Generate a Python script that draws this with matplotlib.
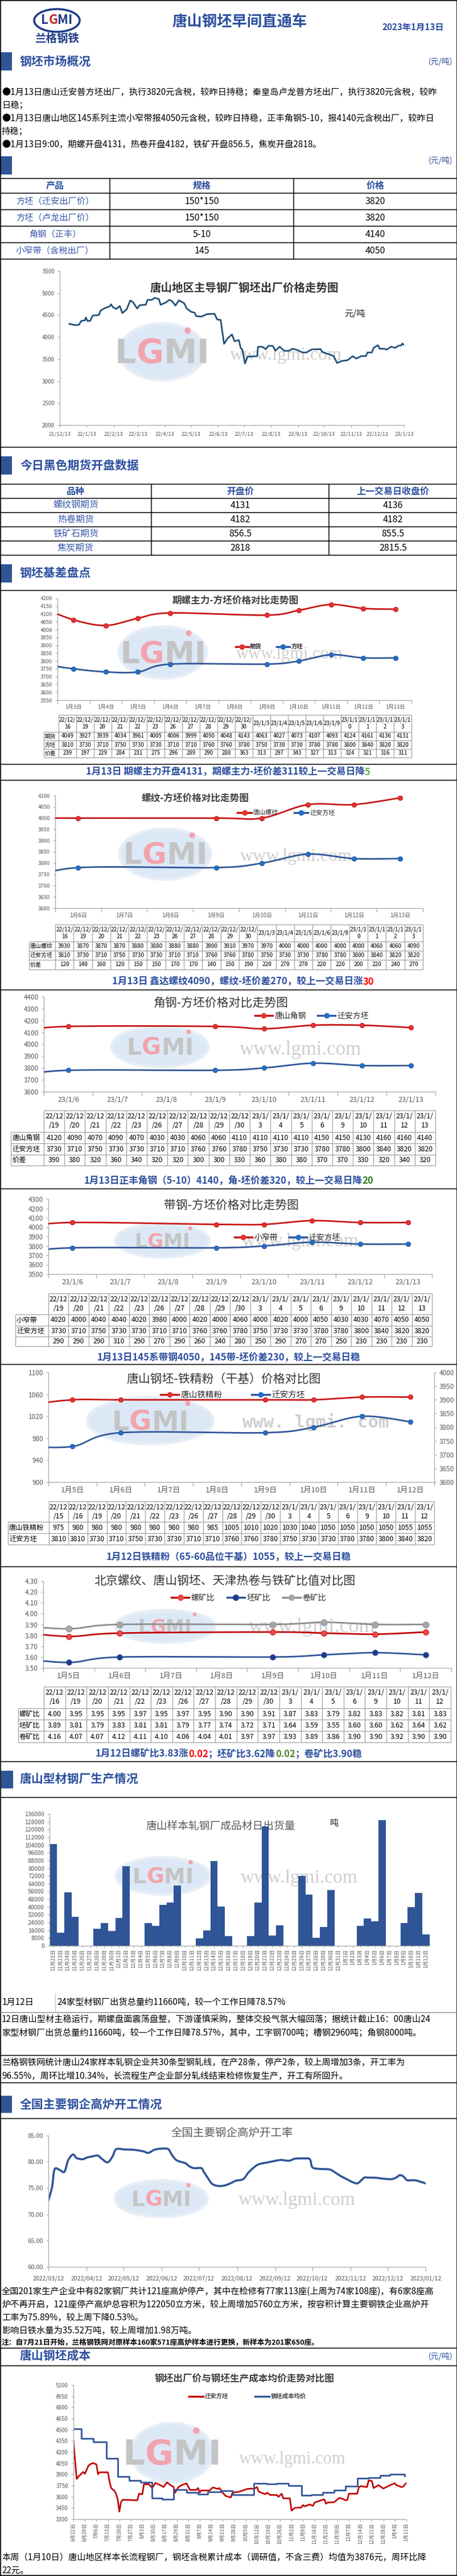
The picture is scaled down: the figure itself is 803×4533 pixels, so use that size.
import numpy as np
import matplotlib
matplotlib.use('Agg')
import matplotlib.pyplot as plt
from matplotlib.patches import Rectangle, Ellipse, Circle
from matplotlib.lines import Line2D
from matplotlib.ticker import FormatStrFormatter

plt.rcParams['font.family'] = ['Noto Sans CJK SC', 'DejaVu Sans']
plt.rcParams['axes.unicode_minus'] = False

# ======================= DATA =======================
report_title = '唐山钢坯早间直通车'
report_date = '2023年1月13日'

overview_lines = [
    '●1月13日唐山迁安普方坯出厂，执行3820元含税，较昨日持稳；秦皇岛卢龙普方坯出厂，执行3820元含税，较昨',
    '日稳；',
    '●1月13日唐山地区145系列主流小窄带报4050元含税，较昨日持稳，正丰角钢5-10，报4140元含税出厂，较昨日',
    '持稳；',
    '●1月13日9:00，期螺开盘4131，热卷开盘4182，铁矿开盘856.5，焦炭开盘2818。',
]

price_header = ['产品', '规格', '价格']
price_products = ['方坯（迁安出厂价）', '方坯（卢龙出厂价）', '角钢（正丰）', '小窄带（含税出厂）']
price_specs = ['150*150', '150*150', '5-10', '145']
price_values = ['3820', '3820', '4140', '4050']

# chart 1: Tangshan billet price trend (days since 2021-12-13)
trend_days = [11, 18, 22, 25, 29, 30, 32, 35, 38, 45, 47, 52, 57, 59, 61, 65, 69, 72, 77, 81,
              84, 89, 92, 99, 101, 106, 109, 114, 116, 121, 126, 129, 133, 137, 143, 146, 151, 155, 157, 163,
              169, 178, 181, 185, 189, 193, 198, 201, 206, 208, 210, 213, 216, 227, 228, 233, 237, 240, 245, 248,
              253, 258, 263, 268, 274, 279, 284, 287, 290, 300, 302, 307, 312, 315, 319, 324, 331, 337, 341, 347,
              352, 354, 359, 361, 366, 368, 373, 376, 381, 386, 389, 393, 394, 396]
trend_price = [4300, 4270, 4280, 4370, 4380, 4445, 4365, 4370, 4490, 4500, 4605, 4660, 4690, 4745, 4680, 4640, 4705, 4545, 4630, 4830,
               4800, 4650, 4725, 4735, 4845, 4845, 4890, 4865, 4735, 4775, 4845, 4820, 4715, 4835, 4770, 4650, 4575, 4555, 4475, 4465,
               4520, 4530, 4400, 4390, 3845, 3970, 4060, 3905, 3930, 3755, 3715, 3400, 3555, 3565, 3780, 3780, 3725, 3800, 3800, 3690,
               3780, 3690, 3685, 3735, 3700, 3650, 3650, 3690, 3720, 3725, 3660, 3625, 3595, 3565, 3410, 3455, 3475, 3565, 3510, 3570,
               3565, 3650, 3650, 3755, 3815, 3735, 3735, 3715, 3780, 3755, 3800, 3815, 3855, 3820]
trend_tick_days = [0, 31, 62, 90, 121, 151, 182, 212, 243, 274, 304, 335, 365, 396]
trend_tick_labels = ['21/12/13', '22/1/13', '22/2/13', '22/3/13', '22/4/13', '22/5/13', '22/6/13',
                     '22/7/13', '22/8/13', '22/9/13', '22/10/13', '22/11/13', '22/12/13', '23/1/13']

fut_header = ['品种', '开盘价', '上一交易日收盘价']
fut_names = ['螺纹钢期货', '热卷期货', '铁矿石期货', '焦炭期货']
fut_open = ['4131', '4182', '856.5', '2818']
fut_prev = ['4136', '4182', '855.5', '2815.5']

# chart 2: futures vs billet
c2_cats = ['1月3日', '1月4日', '1月5日', '1月6日', '1月7日', '1月8日', '1月9日', '1月10日', '1月11日', '1月12日', '1月13日']
c2_fut = [4063, 4027, 4073, 4107, None, None, 4093, 4124, 4161, 4136, 4131]
c2_fut_lead = 4143
c2_bil = [3750, 3730, 3730, 3780, None, None, 3780, 3800, 3840, 3820, 3820]
c2_bil_lead = 3780
t2_days = ['22/12/\n16', '22/12/\n19', '22/12/\n20', '22/12/\n21', '22/12/\n22', '22/12/\n23', '22/12/\n26',
           '22/12/\n27', '22/12/\n28', '22/12/\n29', '22/12/\n30', '23/1/3', '23/1/4', '23/1/5', '23/1/6',
           '23/1/9', '23/1/1\n0', '23/1/1\n1', '23/1/1\n2', '23/1/1\n3']
t2_fut = [4049, 3927, 3939, 4034, 3961, 4005, 4006, 3999, 4050, 4048, 4143, 4063, 4027, 4073, 4107, 4093, 4124, 4161, 4136, 4131]
t2_bil = [3810, 3730, 3710, 3750, 3730, 3730, 3710, 3710, 3760, 3760, 3780, 3750, 3730, 3730, 3780, 3780, 3800, 3840, 3820, 3820]
t2_spr = [239, 197, 229, 284, 231, 275, 296, 289, 290, 288, 363, 313, 297, 343, 327, 313, 324, 321, 316, 311]

# chart 3: rebar vs billet
c3_cats = ['1月6日', '1月7日', '1月8日', '1月9日', '1月10日', '1月11日', '1月12日', '1月13日']
c3_reb = [4000, None, None, 4000, 4000, 4060, 4060, 4090]
c3_reb_lead = 4000
c3_bil = [3780, None, None, 3780, 3800, 3840, 3820, 3820]
c3_bil_lead = 3730
t3_reb = [3930, 3870, 3870, 3870, 3880, 3880, 3880, 3880, 3900, 3910, 3970, 3970, 4000, 4000, 4000, 4000, 4000, 4060, 4060, 4090]
t3_bil = [3810, 3730, 3710, 3750, 3730, 3730, 3710, 3710, 3760, 3760, 3780, 3750, 3730, 3730, 3780, 3780, 3800, 3840, 3820, 3820]
t3_spr = [120, 140, 160, 120, 150, 150, 170, 170, 140, 150, 190, 220, 270, 270, 220, 220, 200, 220, 240, 270]

# chart 4: angle vs billet
c4_cats = ['23/1/6', '23/1/7', '23/1/8', '23/1/9', '23/1/10', '23/1/11', '23/1/12', '23/1/13']
c4_ang = [4150, None, None, 4150, 4130, 4160, 4160, 4140]
c4_ang_lead = 4110
c4_bil = [3780, None, None, 3780, 3800, 3840, 3820, 3820]
c4_bil_lead = 3730
t4_days = ['22/12\n/19', '22/12\n/20', '22/12\n/21', '22/12\n/22', '22/12\n/23', '22/12\n/26', '22/12\n/27',
           '22/12\n/28', '22/12\n/29', '22/12\n/30', '23/1/\n3', '23/1/\n4', '23/1/\n5', '23/1/\n6', '23/1/\n9',
           '23/1/\n10', '23/1/\n11', '23/1/\n12', '23/1/\n13']
t4_ang = [4120, 4090, 4070, 4090, 4070, 4030, 4030, 4060, 4060, 4110, 4110, 4110, 4110, 4150, 4150, 4130, 4160, 4160, 4140]
t4_bil = [3730, 3710, 3750, 3730, 3730, 3710, 3710, 3760, 3760, 3780, 3750, 3730, 3730, 3780, 3780, 3800, 3840, 3820, 3820]
t4_spr = [390, 380, 320, 360, 340, 320, 320, 300, 300, 330, 360, 380, 380, 370, 370, 330, 320, 340, 320]

# chart 5: strip vs billet
c5_cats = ['23/1/6', '23/1/7', '23/1/8', '23/1/9', '23/1/10', '23/1/11', '23/1/12', '23/1/13']
c5_str = [4050, None, None, 4030, 4030, 4070, 4050, 4050]
c5_str_lead = 4000
c5_bil = [3780, None, None, 3780, 3800, 3840, 3820, 3820]
c5_bil_lead = 3730
t5_str = [4020, 4000, 4040, 4040, 4020, 3980, 4000, 4020, 4000, 4060, 4000, 4020, 4000, 4050, 4030, 4030, 4070, 4050, 4050]
t5_bil = [3730, 3710, 3750, 3730, 3730, 3710, 3710, 3760, 3760, 3780, 3750, 3730, 3730, 3780, 3780, 3800, 3840, 3820, 3820]
t5_spr = [290, 290, 290, 310, 290, 270, 290, 260, 240, 280, 250, 290, 270, 270, 250, 230, 230, 230, 230]

# chart 6: billet vs iron concentrate
c6_cats = ['1月5日', '1月6日', '1月7日', '1月8日', '1月9日', '1月10日', '1月11日', '1月12日']
c6_ore = [1050, 1050, None, None, 1050, 1050, 1055, 1055]
c6_ore_lead = 1040
c6_bil = [3730, 3780, None, None, 3780, 3800, 3840, 3820]
c6_bil_lead = 3730
t6_days = ['22/12\n/15', '22/12\n/16', '22/12\n/19', '22/12\n/20', '22/12\n/21', '22/12\n/22', '22/12\n/23',
           '22/12\n/26', '22/12\n/27', '22/12\n/28', '22/12\n/29', '22/12\n/30', '23/1/\n3', '23/1/\n4',
           '23/1/\n5', '23/1/\n6', '23/1/\n9', '23/1/\n10', '23/1/\n11', '23/1/\n12']
t6_ore = [975, 980, 980, 980, 980, 980, 980, 980, 985, 1005, 1010, 1020, 1030, 1040, 1050, 1050, 1050, 1050, 1055, 1055]
t6_bil = [3810, 3810, 3730, 3710, 3750, 3730, 3730, 3710, 3710, 3760, 3760, 3780, 3750, 3730, 3730, 3780, 3780, 3800, 3840, 3820]

# chart 7: ratios
c7_cats = ['1月5日', '1月6日', '1月7日', '1月8日', '1月9日', '1月10日', '1月11日', '1月12日']
c7_reb = [3.79, 3.82, None, None, 3.83, 3.82, 3.81, 3.83]
c7_reb_lead = 3.83
c7_bil = [3.55, 3.60, None, None, 3.60, 3.62, 3.64, 3.62]
c7_bil_lead = 3.59
c7_coil = [3.86, 3.90, None, None, 3.90, 3.92, 3.90, 3.90]
c7_coil_lead = 3.89
t7_days = ['22/12\n/16', '22/12\n/19', '22/12\n/20', '22/12\n/21', '22/12\n/22', '22/12\n/23', '22/12\n/26',
           '22/12\n/27', '22/12\n/28', '22/12\n/29', '22/12\n/30', '23/1/\n3', '23/1/\n4', '23/1/\n5',
           '23/1/\n6', '23/1/\n9', '23/1/\n10', '23/1/\n11', '23/1/\n12']
t7_reb = [4.00, 3.95, 3.95, 3.95, 3.97, 3.95, 3.97, 3.95, 3.90, 3.90, 3.91, 3.87, 3.83, 3.79, 3.82, 3.83, 3.82, 3.81, 3.83]
t7_bil = [3.89, 3.81, 3.79, 3.83, 3.81, 3.81, 3.79, 3.77, 3.74, 3.72, 3.71, 3.64, 3.59, 3.55, 3.60, 3.60, 3.62, 3.64, 3.62]
t7_coil = [4.16, 4.07, 4.07, 4.12, 4.11, 4.10, 4.06, 4.04, 4.01, 3.97, 3.97, 3.93, 3.89, 3.86, 3.90, 3.90, 3.92, 3.90, 3.90]

# bar chart: daily shipments (t)
ship_dates = ['11月22日', '11月23日', '11月24日', '11月25日', '11月26日', '11月27日', '11月28日', '11月29日', '11月30日',
              '12月1日', '12月2日', '12月3日', '12月4日', '12月5日', '12月6日', '12月7日', '12月8日', '12月9日', '12月10日',
              '12月11日', '12月12日', '12月13日', '12月14日', '12月15日', '12月16日', '12月17日', '12月18日', '12月19日',
              '12月20日', '12月21日', '12月22日', '12月23日', '12月24日', '12月25日', '12月26日', '12月27日', '12月28日',
              '12月29日', '12月30日', '12月31日', '1月1日', '1月2日', '1月3日', '1月4日', '1月5日', '1月6日', '1月7日',
              '1月8日', '1月9日', '1月10日', '1月11日', '1月12日']
ship_tons = [104800, 13600, 55000, 30000, 0, 0, 17800, 23700, 15400, 29000, 82000, 0, 0, 23700, 20700, 42100, 44500,
             62000, 0, 0, 7700, 16000, 87200, 40400, 10000, 0, 0, 10000, 44500, 123300, 10700, 21300, 0, 0, 72000,
             52500, 8300, 19600, 57400, 0, 0, 0, 20700, 27900, 25500, 129800, 0, 0, 23700, 39800, 54400, 11660]

# blast furnace utilisation (days since 2022-03-12)
bf_days = [0, 3, 5, 9, 13, 16, 20, 23, 28, 31, 35, 40, 43, 48, 52, 55, 62, 69, 77, 81, 86, 91, 97, 100, 104,
           111, 114, 118, 124, 126, 130, 133, 138, 143, 148, 152, 158, 162, 167, 171, 178, 184, 189, 195, 200,
           207, 212, 214, 219, 228, 233, 237, 242, 247, 251, 256, 259, 266, 271, 278, 282, 285, 288, 291, 297, 302, 306]
bf_rate = [72.68, 75.2, 78.55, 78.48, 78.1, 80.3, 81.4, 80.7, 80.5, 80.8, 81.0, 81.2, 80.65, 79.9, 81.0, 82.4, 82.35,
           82.3, 82.0, 81.7, 82.3, 82.5, 82.45, 81.4, 80.3, 79.75, 79.2, 78.8, 78.8, 78.1, 76.7, 75.76, 75.4, 75.5,
           75.94, 76.4, 76.7, 77.9, 79.0, 79.57, 79.9, 80.2, 80.36, 80.2, 80.6, 80.65, 80.5, 79.0, 78.66, 78.55, 77.9,
           77.3, 76.7, 76.1, 75.94, 76.96, 77.0, 76.96, 76.8, 76.7, 77.0, 77.46, 77.2, 76.5, 76.5, 76.2, 75.89]
bf_tick_days = [0, 31, 61, 92, 122, 153, 184, 214, 245, 275, 306]
bf_tick_labels = ['2022/03/12', '2022/04/12', '2022/05/12', '2022/06/12', '2022/07/12', '2022/08/12',
                  '2022/09/12', '2022/10/12', '2022/11/12', '2022/12/12', '2023/01/12']

# cost chart (days since 2022-06-22)
cost_bil_days = [0, 1, 2, 3, 6, 7, 9, 10, 12, 14, 15, 16, 21, 22, 23, 25, 26, 27, 28, 29, 30, 33, 39, 40, 42, 43, 46,
                 48, 50, 53, 55, 57, 60, 61, 62, 64, 66, 69, 71, 75, 76, 77, 78, 83, 85, 88, 89, 91, 93, 96, 97, 101,
                 106, 109, 110, 112, 113, 117, 118, 120, 124, 125, 127, 128, 132, 133, 135, 139, 140, 141, 144, 146,
                 147, 151, 153, 154, 155, 159, 162, 164, 166, 167, 168, 173, 174, 175, 179, 180, 182, 183, 186, 189,
                 193, 196, 197, 200, 201, 203]
cost_bil_price = [4350, 4090, 3840, 3870, 3934, 3909, 4010, 4035, 4053, 4035, 3903, 3929, 3929, 3807, 3718, 3680, 3642,
                  3566, 3402, 3528, 3559, 3559, 3554, 3642, 3635, 3769, 3769, 3718, 3787, 3756, 3731, 3794, 3744, 3736,
                  3655, 3731, 3756, 3782, 3693, 3693, 3718, 3660, 3685, 3685, 3726, 3706, 3718, 3655, 3609, 3592, 3655,
                  3668, 3706, 3711, 3706, 3731, 3668, 3635, 3655, 3625, 3625, 3599, 3642, 3579, 3579, 3414, 3452, 3457,
                  3490, 3472, 3498, 3478, 3523, 3554, 3566, 3508, 3523, 3528, 3584, 3574, 3554, 3559, 3642, 3642, 3726,
                  3744, 3731, 3820, 3812, 3718, 3756, 3711, 3756, 3782, 3756, 3731, 3736, 3787]
cost_avg_days = [0, 5, 12, 20, 27, 34, 41, 48, 54, 61, 69, 76, 82, 90, 97, 110, 118, 124, 131, 139, 145, 152, 159,
                 166, 173, 180, 187, 193, 202]
cost_avg = [4510, 4385, 4340, 4115, 3870, 3815, 3795, 3580, 3570, 3700, 3660, 3635, 3665, 3680, 3630, 3782, 3773,
            3780, 3750, 3617, 3630, 3660, 3690, 3742, 3850, 3855, 3890, 3902, 3876]
cost_tick_labels = ['6月22日', '6月29日', '7月6日', '7月13日', '7月20日', '7月27日', '8月3日', '8月10日', '8月17日',
                    '8月24日', '8月31日', '9月7日', '9月14日', '9月21日', '9月28日', '10月5日', '10月12日', '10月19日',
                    '10月26日', '11月2日', '11月9日', '11月16日', '11月23日', '11月30日', '12月7日', '12月14日',
                    '12月21日', '12月28日', '1月4日', '1月11日']

# ======================= LAYOUT HELPERS =======================
W, H = 804, 4533
fig = plt.figure(figsize=(W / 100, H / 100), dpi=100)
page = fig.add_axes([0, 0, 1, 1], zorder=0)
page.set_xlim(0, W)
page.set_ylim(H, 0)
page.axis('off')
renderer = fig.canvas.get_renderer()

BLUE_T = '#2c4f9e'
BLUE_L = '#3558a8'
GRAY_T = '#595959'
AX_C = '#a6a6a6'
RED_L = '#c81414'
RED_M = '#e23232'
BLUE_LN = '#2f5597'
BLUE_M = '#1f6fc8'
BODY_FS = 11.0


def ax_at(l, t, r, b, z=2):
    a = fig.add_axes([l / W, 1 - b / H, (r - l) / W, (b - t) / H], zorder=z)
    a.set_facecolor('none')
    return a


def hline(y, x0=0, x1=W, c='black', lw=1.1):
    page.plot([x0, x1], [y, y], color=c, lw=lw, solid_capstyle='butt')


def vline(x, y0, y1, c='black', lw=1.1):
    page.plot([x, x], [y0, y1], color=c, lw=lw, solid_capstyle='butt')


def txt(x, y, s, fs, c='black', w='normal', ha='left', va='center', **kw):
    return page.text(x, y, s, fontsize=fs, color=c, weight=w, ha=ha, va=va, **kw)


def rich(xc, y, segs, fs, w='bold', family=None, z=3):
    objs, ws = [], []
    for s, c in segs:
        kw = {'family': family} if family else {}
        t = page.text(0, y, s, fontsize=fs, color=c, weight=w, ha='left', va='center', zorder=z, **kw)
        ws.append(t.get_window_extent(renderer=renderer).width)
        objs.append(t)
    x = xc - sum(ws) / 2
    for t, wd in zip(objs, ws):
        t.set_x(x)
        x += wd


def section(y0, y1, title, unit=None, bar=True, x0=0):
    if bar:
        page.add_patch(Rectangle((x0, y0), 21, y1 - y0, color=BLUE_LN, lw=0))
    if title:
        txt(35, (y0 + y1) / 2, title, 15, BLUE_T, 'bold')
    if unit:
        txt(795, (y0 + y1) / 2 if title else y0 + 8, unit, 10, BLUE_T, ha='right')


def watermark(cx, cy, w, h, tx, ty, tfs, mono=False):
    page.add_patch(Ellipse((cx, cy), w, h, facecolor='#d4e3f3', edgecolor='#e3ecf6', lw=5, alpha=0.8, zorder=1))
    fs = h * 0.6 * 0.72
    rich(cx, cy + h * 0.04, [('L', '#c4c4c4'), ('G', '#f2a4ae'), ('M', '#c4c4c4'), ('I', '#c4c4c4')], fs,
         family='DejaVu Sans', z=2)
    page.add_patch(Circle((cx + 0.3 * w, cy - 0.38 * h), h * 0.05, color='#f2a4ae', zorder=2))
    if mono:
        page.text(tx, ty, 'www. lgmi. com', fontsize=tfs, color='#cfcfcf', ha='center', va='center',
                  family='DejaVu Sans Mono', weight='bold', zorder=2)
    else:
        page.text(tx, ty, 'www.lgmi.com', fontsize=tfs, color='#cfcfcf', ha='center', va='center',
                  family='Liberation Serif', zorder=2)


def table(xl, xc, xr, ys, headers, labels, rows, fs, lc='#a0a0a0'):
    n = len(headers)
    cw = (xr - xc) / n
    hline(ys[0], xc, xr, lc, 0.9)
    for y in ys[1:]:
        hline(y, xl, xr, lc, 0.9)
    vline(xl, ys[1], ys[-1], lc, 0.9)
    for k in range(n + 1):
        vline(xc + k * cw, ys[0], ys[-1], lc, 0.9)
    for k, h in enumerate(headers):
        txt(xc + (k + 0.5) * cw, (ys[0] + ys[1]) / 2, h, fs, ha='center', linespacing=1.3)
    for r, (lab, vals) in enumerate(zip(labels, rows)):
        yc = (ys[r + 1] + ys[r + 2]) / 2
        txt(xl + 2, yc, lab, fs)
        for k, v in enumerate(vals):
            txt(xc + (k + 0.5) * cw, yc, v, fs, ha='center')


def style(ax, fs):
    for s in ('top', 'right'):
        ax.spines[s].set_visible(False)
    for s in ('left', 'bottom'):
        ax.spines[s].set_color(AX_C)
        ax.spines[s].set_linewidth(0.9)
    ax.tick_params(colors=AX_C, labelcolor=GRAY_T, labelsize=fs, length=3, width=0.8)


def smooth(xs, ys, n=24):
    P = np.column_stack([xs, ys]).astype(float)
    if len(P) < 3:
        return P[:, 0], P[:, 1]
    E = np.vstack([P[0], P, P[-1]])
    out = []
    t = np.linspace(0, 1, n)[:, None]
    for i in range(len(P) - 1):
        p0, p1, p2, p3 = E[i], E[i + 1], E[i + 2], E[i + 3]
        c1 = p1 + (p2 - p0) / 6
        c2 = p2 - (p3 - p1) / 6
        seg = (1 - t) ** 3 * p1 + 3 * (1 - t) ** 2 * t * c1 + 3 * (1 - t) * t ** 2 * c2 + t ** 3 * p2
        out.append(seg if i == 0 else seg[1:])
    S = np.vstack(out)
    return S[:, 0], S[:, 1]


def cat_axis(ax, cats, fs):
    n = len(cats)
    ax.set_xlim(-0.5, n - 0.5)
    ax.set_xticks(np.arange(-0.5, n, 1.0))
    ax.set_xticklabels([])
    ax.set_xticks(np.arange(n), labels=cats, minor=True)
    ax.tick_params(axis='x', which='major', length=5)
    ax.tick_params(axis='x', which='minor', length=0, labelsize=fs, labelcolor=GRAY_T, pad=6)


def series(ax, vals, lead, lc, mc, ms=6, lw=2.0):
    xs = [-1] + [i for i, v in enumerate(vals) if v is not None]
    ys = [lead] + [v for v in vals if v is not None]
    sx, sy = smooth(xs, ys)
    ax.plot(sx, sy, color=lc, lw=lw, zorder=3, solid_capstyle='round')
    ax.plot(xs[1:], ys[1:], 'o', color=mc, mec=lc, mew=0.6, ms=ms, zorder=4)


def legend(ax, xc, yc, entries, fs, colsp=2.0, w='normal', ms=6):
    hs = [Line2D([0], [0], color=lc, lw=2.5, marker='o', ms=ms, mfc=mc, mec=mc) for (_, lc, mc) in entries]
    leg = ax.legend(hs, [e[0] for e in entries], loc='center', bbox_to_anchor=(xc, yc),
                    bbox_transform=page.transData, ncol=len(entries), frameon=False, fontsize=fs,
                    columnspacing=colsp, handlelength=2.2, handletextpad=0.25, borderpad=0)
    for t in leg.get_texts():
        t.set_weight(w)
        t.set_color('#262626')


def fmt(vals, f='%d'):
    return [f % v for v in vals]


# ======================= PAGE FRAME =======================
vline(0.6, 0, H, lw=1.2)
vline(803.4, 0, H, lw=1.2)
hline(0.6, lw=1.2)
hline(4532.4, lw=1.2)

# logo
page.add_patch(Ellipse((100, 36), 80, 40, facecolor='white', edgecolor='#1f3c88', lw=2.6))
rich(100, 36, [('L', '#1f3c88'), ('G', '#c0272d'), ('M', '#1f3c88'), ('I', '#1f3c88')], 16)
txt(100, 68, '兰格钢铁', 14, '#1f3c88', 'bold', ha='center')
txt(421, 39, report_title, 19, BLUE_T, 'bold', ha='center')
txt(780, 48, report_date, 11, BLUE_T, 'bold', ha='right')

# ---- section: overview
section(92, 124, '钢坯市场概况', '(元/吨)')
for y, line in zip([162, 185, 208, 231, 254], overview_lines):
    txt(3, y, line, BODY_FS)
section(275, 307, None, '(元/吨)')

# price table
ys1 = [314, 340, 369, 398, 427, 456]
xs1 = [0, 193, 516, 803]
for y in ys1:
    hline(y, lw=1.1)
for x in xs1[1:-1]:
    vline(x, ys1[0], ys1[-1], lw=1.1)
for k, hd in enumerate(price_header):
    txt((xs1[k] + xs1[k + 1]) / 2, (ys1[0] + ys1[1]) / 2, hd, 11.5, BLUE_T, 'bold', ha='center')
for r in range(4):
    yc = (ys1[r + 1] + ys1[r + 2]) / 2
    txt((xs1[0] + xs1[1]) / 2, yc, price_products[r], 11, BLUE_L, ha='center')
    txt((xs1[1] + xs1[2]) / 2, yc, price_specs[r], 11.5, ha='center')
    txt((xs1[2] + xs1[3]) / 2, yc, price_values[r], 11.5, ha='center')

# chart 1
watermark(285, 619, 149, 98, 502, 625, 23)
ax1 = ax_at(105, 477, 710, 748)
style(ax1, 7)
ax1.plot(trend_days, trend_price, color='#1f4e79', lw=2.0)
ax1.set_xlim(0, 396)
ax1.set_ylim(2000, 5500)
ax1.set_yticks(np.arange(2000, 5501, 500))
ax1.set_xticks(trend_tick_days, labels=trend_tick_labels)
ax1.tick_params(axis='x', labelsize=6.8, pad=5)
txt(429, 507, '唐山地区主导钢厂钢坯出厂价格走势图', 14, '#333333', 'bold', ha='center')
txt(624, 552, '元/吨', 11, '#222222', ha='center')
hline(787)

# ---- futures section
section(803, 835, '今日黑色期货开盘数据')
ys2 = [852, 877, 902, 927, 952, 977]
xs2 = [0, 266, 578, 803]
for y in ys2:
    hline(y)
for x in xs2[1:-1]:
    vline(x, ys2[0], ys2[-1])
for k, hd in enumerate(fut_header):
    txt((xs2[k] + xs2[k + 1]) / 2, (ys2[0] + ys2[1]) / 2, hd, 11.5, BLUE_T, 'bold', ha='center')
for r in range(4):
    yc = (ys2[r + 1] + ys2[r + 2]) / 2
    txt((xs2[0] + xs2[1]) / 2, yc, fut_names[r], 11.5, BLUE_L, ha='center')
    txt((xs2[1] + xs2[2]) / 2, yc, fut_open[r], 11.5, ha='center')
    txt((xs2[2] + xs2[3]) / 2, yc, fut_prev[r], 11.5, ha='center')

section(993, 1025, '钢坯基差盘点')
hline(1039)

# chart 2
watermark(286, 1148, 152, 89, 509, 1152, 22)
ax2 = ax_at(101, 1053, 723, 1232)
style(ax2, 6.8)
cat_axis(ax2, c2_cats, 6.8)
ax2.set_ylim(3550, 4200)
ax2.set_yticks(np.arange(3550, 4201, 50))
series(ax2, c2_fut, c2_fut_lead, RED_L, RED_M)
series(ax2, c2_bil, c2_bil_lead, BLUE_LN, BLUE_M)
txt(414, 1058, '期螺主力-方坯价格对比走势图', 12, '#404040', 'bold', ha='center')
legend(ax2, 473, 1138, [('期货', RED_L, RED_M), ('方坯', BLUE_LN, BLUE_M)], 7.5, 2.5, 'bold')
table(77, 103, 723, [1258, 1288, 1303, 1318, 1333], t2_days, ['期货', '方坯', '价差'],
      [fmt(t2_fut), fmt(t2_bil), fmt(t2_spr)], 7)
hline(1345)
rich(401, 1359, [('1月13日 期螺主力开盘4131，期螺主力-坯价差311较上一交易日降', BLUE_T), ('5', '#70ad47')], 12)
hline(1373)

# chart 3
watermark(290, 1503, 159, 87, 520, 1508, 23)
ax3 = ax_at(97, 1400, 743, 1598)
style(ax3, 6.8)
cat_axis(ax3, c3_cats, 7)
ax3.set_ylim(3600, 4100)
ax3.set_yticks(np.arange(3600, 4101, 50))
series(ax3, c3_reb, c3_reb_lead, RED_L, RED_M)
series(ax3, c3_bil, c3_bil_lead, BLUE_LN, BLUE_M)
txt(343, 1405, '螺纹-方坯价格对比走势图', 12, '#404040', 'bold', ha='center')
legend(ax3, 503, 1430, [('唐山螺纹', RED_L, RED_M), ('迁安方坯', BLUE_LN, BLUE_M)], 8, 2.5)
table(51, 97, 743, [1627, 1657, 1673, 1689, 1706], t2_days, ['唐山螺纹', '迁安方坯', '价差'],
      [fmt(t3_reb), fmt(t3_bil), fmt(t3_spr)], 7.2)
rich(427, 1728, [('1月13日 鑫达螺纹4090，螺纹-坯价差270，较上一交易日涨', BLUE_T), ('30', '#ff0000')], 12)
hline(1742)

# chart 4
watermark(281, 1842, 168, 69, 528, 1847, 25)
ax4 = ax_at(77, 1754, 765, 1921)
style(ax4, 8.5)
cat_axis(ax4, c4_cats, 9)
ax4.set_ylim(3600, 4400)
ax4.set_yticks(np.arange(3600, 4401, 100))
series(ax4, c4_ang, c4_ang_lead, RED_L, RED_M)
series(ax4, c4_bil, c4_bil_lead, BLUE_LN, BLUE_M)
txt(388, 1766, '角钢-方坯价格对比走势图', 15, '#333333', ha='center')
legend(ax4, 548, 1788, [('唐山角钢', RED_L, RED_M), ('迁安方坯', BLUE_LN, BLUE_M)], 10, 1.5)
table(19.5, 77, 765, [1954, 1992, 2012, 2032, 2051], t4_days, ['唐山角钢', '迁安方坯', '价差'],
      [fmt(t4_ang), fmt(t4_bil), fmt(t4_spr)], 8.8)
rich(402, 2078, [('1月13日正丰角钢（5-10）4140，角-坯价差320，较上一交易日降', BLUE_T), ('20', '#3a7d22')], 12)
hline(2092)

# chart 5
watermark(285, 2183, 164, 57, 528, 2185, 24)
ax5 = ax_at(85, 2110, 759, 2242)
style(ax5, 8.5)
cat_axis(ax5, c5_cats, 9)
ax5.set_ylim(3500, 4300)
ax5.set_yticks(np.arange(3500, 4301, 100))
series(ax5, c5_str, c5_str_lead, RED_L, RED_M)
series(ax5, c5_bil, c5_bil_lead, BLUE_LN, BLUE_M)
txt(407, 2122, '带钢-方坯价格对比走势图', 15, '#333333', ha='center')
legend(ax5, 505, 2178, [('小窄带', RED_L, RED_M), ('迁安方坯', BLUE_LN, BLUE_M)], 10, 1.5)
table(27, 85, 759, [2276, 2313, 2333, 2352, 2369], t4_days, ['小窄带', '迁安方坯', ''],
      [fmt(t5_str), fmt(t5_bil), fmt(t5_spr)], 8.8)
rich(402, 2390, [('1月13日145系带钢4050，145带-坯价差230，较上一交易日稳', BLUE_T)], 12)
hline(2401)

# chart 6
watermark(264, 2500, 220, 80, 555, 2502, 22, mono=True)
ax6 = ax_at(85, 2415, 763, 2608)
style(ax6, 8.5)
cat_axis(ax6, c6_cats, 9.5)
ax6.set_ylim(900, 1100)
ax6.set_yticks(np.arange(900, 1101, 40))
ax6b = ax6.twinx()
ax6b.set_facecolor('none')
ax6b.set_zorder(3)
for s in ('top', 'left', 'bottom'):
    ax6b.spines[s].set_visible(False)
ax6b.spines['right'].set_color(AX_C)
ax6b.tick_params(colors=AX_C, labelcolor=GRAY_T, labelsize=8.5, length=3)
ax6b.set_ylim(3600, 4000)
ax6b.set_yticks(np.arange(3600, 4001, 50))
series(ax6, c6_ore, c6_ore_lead, RED_L, RED_M)
series(ax6b, c6_bil, c6_bil_lead, BLUE_LN, BLUE_M)
txt(393, 2428, '唐山钢坯-铁精粉（干基）价格对比图', 15, '#333333', ha='center')
legend(ax6b, 409, 2455, [('唐山铁精粉', RED_L, RED_M), ('迁安方坯', BLUE_LN, BLUE_M)], 10.5, 3.5)
table(14, 86, 763, [2642, 2678, 2698, 2718], t6_days, ['唐山铁精粉', '迁安方坯'],
      [fmt(t6_ore), fmt(t6_bil)], 8.8)
rich(402, 2740, [('1月12日铁精粉（65-60品位干基）1055，较上一交易日稳', BLUE_T)], 12)
hline(2757)

# chart 7
watermark(290, 2862, 174, 55, 548, 2863, 26)
ax7 = ax_at(76, 2782, 793, 2935)
style(ax7, 8.5)
cat_axis(ax7, c7_cats, 9.5)
ax7.set_ylim(3.5, 4.3)
ax7.set_yticks(np.arange(3.5, 4.301, 0.1))
ax7.yaxis.set_major_formatter(FormatStrFormatter('%.2f'))
series(ax7, c7_reb, c7_reb_lead, '#c00000', '#e84a4a', ms=7)
series(ax7, c7_bil, c7_bil_lead, '#2f5597', '#1f3a8a', ms=7)
series(ax7, c7_coil, c7_coil_lead, '#8c8c8c', '#a6a6a6', ms=8)
txt(395, 2783, '北京螺纹、唐山钢坯、天津热卷与铁矿比值对比图', 15, '#333333', ha='center')
legend(ax7, 437, 2812, [('螺矿比', '#c00000', '#e84a4a'), ('坯矿比', '#2f5597', '#1f3a8a'),
                        ('卷矿比', '#8c8c8c', '#a6a6a6')], 10, 1.6, ms=7)
table(32, 77, 792, [2968, 3006, 3026, 3046, 3066], t7_days, ['螺矿比', '坯矿比', '卷矿比'],
      [fmt(t7_reb, '%.2f'), fmt(t7_bil, '%.2f'), fmt(t7_coil, '%.2f')], 8.8)
rich(402, 3087, [('1月12日螺矿比3.83涨', BLUE_T), ('0.02', '#ff0000'), ('；坯矿比3.62降', BLUE_T),
                 ('0.02', '#548235'), ('；卷矿比3.90稳', BLUE_T)], 12)
hline(3100)

# ---- section: shapes
section(3116, 3147, '唐山型材钢厂生产情况', x0=2)
hline(3163)
watermark(286, 3301, 163, 63, 526, 3305, 24)
ax8 = ax_at(87, 3192, 755, 3424)
style(ax8, 7.5)
ax8.bar(np.arange(len(ship_tons)), ship_tons, width=1.0, color='#2f5597', lw=0)
ax8.set_xlim(-0.5, len(ship_tons) - 0.5)
ax8.set_ylim(0, 136000)
ax8.set_yticks(np.arange(0, 136001, 8000))
ax8.set_xticks(np.arange(len(ship_tons)), labels=ship_dates, rotation=90)
ax8.tick_params(axis='x', labelsize=6.5, length=2, pad=2)
txt(388, 3213, '唐山样本轧钢厂成品材日出货量', 13.5, '#595959', ha='center')
txt(588, 3209, '吨', 11, '#222222', ha='center')

txt(4, 3523, '1月12日', BODY_FS)
vline(97, 3507, 3540, '#b4c6e7', 0.9)
txt(100, 3523, '24家型材钢厂出货总量约11660吨，较一个工作日降78.57%', BODY_FS)
hline(3541, c='#7f7f7f', lw=0.9)
txt(3, 3553, '12日唐山型材主稳运行，期螺盘面震荡盘整，下游谨慎采购，整体交投气氛大幅回落；据统计截止16：00唐山24', BODY_FS)
txt(3, 3577, '家型材钢厂出货总量约11660吨，较一个工作日降78.57%，其中，工字钢700吨；槽钢2960吨；角钢8000吨。', BODY_FS)
hline(3617)
txt(3, 3629, '兰格钢铁网统计唐山24家样本轧钢企业共30条型钢轧线，在产28条，停产2条，较上周增加3条，开工率为', BODY_FS)
txt(3, 3653, '96.55%，周环比增10.34%，长流程生产企业部分轧线结束检修恢复生产，开工有所回升。', BODY_FS)
hline(3665)

# ---- section: blast furnaces
section(3688, 3718, '全国主要钢企高炉开工情况')
hline(3728)
watermark(283, 3869, 161, 62, 522, 3872, 24)
ax9 = ax_at(85, 3758, 748, 3989)
style(ax9, 8)
bx, by = smooth(bf_days, bf_rate, 10)
ax9.plot(bx, by, color='#2f5597', lw=2.6, solid_capstyle='round')
ax9.set_xlim(0, 306)
ax9.set_ylim(60, 85)
ax9.set_yticks(np.arange(60, 85.01, 5))
ax9.yaxis.set_major_formatter(FormatStrFormatter('%.2f'))
ax9.set_xticks(bf_tick_days, labels=bf_tick_labels)
ax9.tick_params(axis='x', labelsize=7.6, length=5, pad=6)
txt(408, 3753, '全国主要钢企高炉开工率', 14, '#595959', ha='center')
txt(3, 4032, '全国201家生产企业中有82家钢厂共计121座高炉停产，其中在检修有77家113座(上周为74家108座)，有6家8座高', BODY_FS)
txt(3, 4055, '炉不再开启，121座停产高炉总容积为122050立方米，较上周增加5760立方米，按容积计算主要钢铁企业高炉开', BODY_FS)
txt(3, 4078, '工率为75.89%，较上周下降0.53%。', BODY_FS)
txt(3, 4101, '影响日铁水量为35.52万吨，较上周增加1.98万吨。', BODY_FS)
txt(3, 4122, '注：自7月21日开始，兰格钢铁网对原样本160家571座高炉样本进行更换，新样本为201家650座。', 9.2, w='bold')
hline(4132)

# ---- section: cost
section(4133, 4160, '唐山钢坯成本', '(元/吨)', bar=False)
hline(4163)
watermark(302, 4316, 143, 102, 514, 4327, 22)
ax10 = ax_at(129, 4197, 714, 4433)
style(ax10, 7)
ax10.plot(cost_bil_days, cost_bil_price, color='#c00000', lw=2.0)
ax10.plot(cost_avg_days, cost_avg, color='#2f5597', lw=2.0, drawstyle='steps-post')
ax10.set_xlim(0, 203)
ax10.set_ylim(3300, 5100)
ax10.set_yticks(np.arange(3300, 5101, 150))
ax10.set_xticks(np.arange(0, 204, 7), labels=cost_tick_labels, rotation=90)
ax10.tick_params(axis='x', labelsize=6.3, length=3, pad=2)
txt(430, 4186, '钢坯出厂价与钢坯生产成本均价走势对比图', 12, '#404040', 'bold', ha='center')
leg_h = [Line2D([0], [0], color='#c00000', lw=2.5), Line2D([0], [0], color='#2f5597', lw=2.5)]
lg = ax10.legend(leg_h, ['迁安方坯', '钢坯成本均价'], loc='center', bbox_to_anchor=(435, 4217),
                 bbox_transform=page.transData, ncol=2, frameon=False, fontsize=7.5, columnspacing=4.5,
                 handlelength=2.4, handletextpad=0.3, borderpad=0)
for t in lg.get_texts():
    t.set_weight('bold')
    t.set_color('#404040')
txt(3, 4500, '本周（1月10日）唐山地区样本长流程钢厂，钢坯含税累计成本（调研值，不含三费）均值为3876元，周环比降', BODY_FS)
txt(3, 4523, '22元。', BODY_FS)

fig.savefig('out.png', dpi=100)
